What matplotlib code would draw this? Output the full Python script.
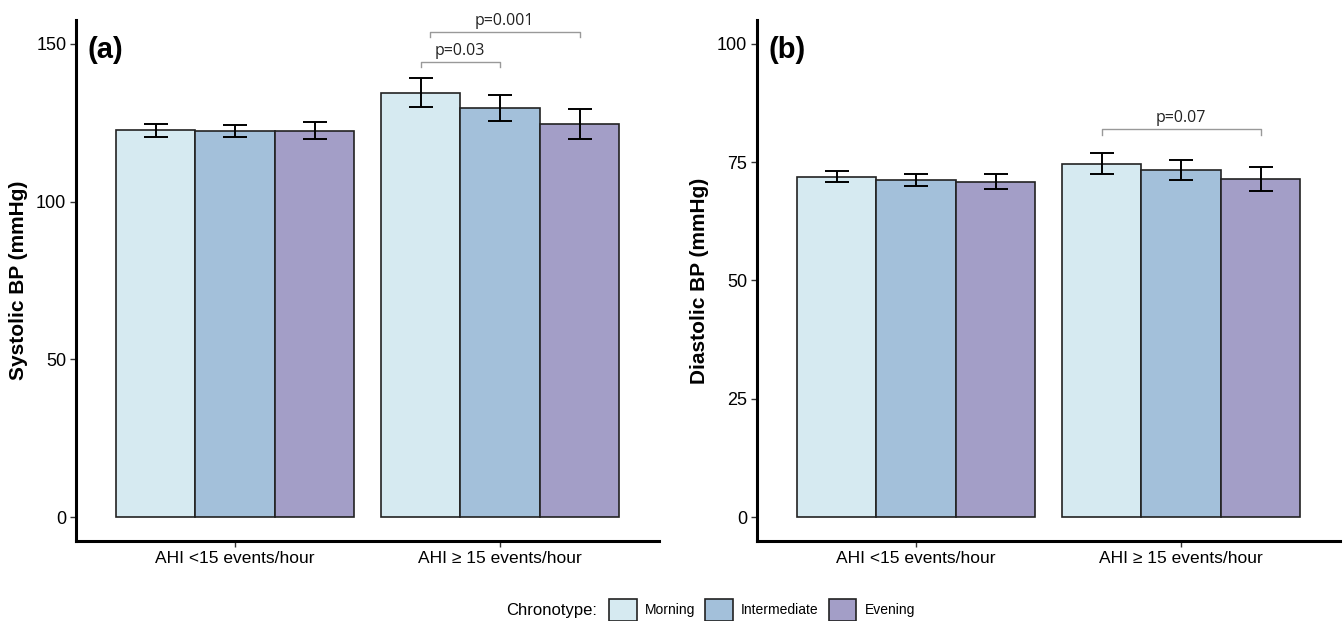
import numpy as np
import matplotlib.pyplot as plt
from matplotlib.patches import Patch
from matplotlib import font_manager

# --- dados ---
groups = ["AHI <15 events/hour", "AHI \u2265 15 events/hour"]
chronotypes = ["Morning", "Intermediate", "Evening"]
colors = ["#d6eaf1", "#a3c0da", "#a39ec7"]

sbp_mean = [[122.6, 122.2, 122.4], [134.4, 129.7, 124.5]]
sbp_err = [[2.0, 1.9, 2.7], [4.6, 4.2, 4.8]]
dbp_mean = [[71.9, 71.2, 70.9], [74.7, 73.4, 71.4]]
dbp_err = [[1.2, 1.2, 1.6], [2.3, 2.1, 2.6]]

# brackets: (group, from_bar, to_bar, y, label)
sbp_brackets = [(1, 0, 1, 144.2, "p=0.03"), (1, 0.12, 2, 153.7, "p=0.001")]
dbp_brackets = [(1, 0, 2, 82.0, "p=0.07")]

names = {f.name for f in font_manager.fontManager.ttflist}
tick_font = "Liberation Sans Narrow" if "Liberation Sans Narrow" in names else "Liberation Sans"
plt.rcParams['font.family'] = ['Liberation Sans', 'DejaVu Sans']

W, H = 1343, 621
fig = plt.figure(figsize=(W / 100, H / 100), dpi=100)

bw = 0.3
x = np.arange(1, len(groups) + 1)


def draw_panel(left_px, right_px, means, errs, brackets, ylim, yticks, ylabel, tag, drop):
    ax = fig.add_axes([left_px / W, (H - 541) / H, (right_px - left_px) / W, (541 - 20) / H])
    for j, name in enumerate(chronotypes):
        vals = [means[g][j] for g in range(len(groups))]
        ev = [errs[g][j] for g in range(len(groups))]
        pos = x + (j - 1) * bw
        ax.bar(pos, vals, width=bw, color=colors[j], edgecolor="#222222", linewidth=1.2, zorder=2)
        ax.errorbar(pos, vals, yerr=ev, fmt="none", ecolor="black", elinewidth=1.4,
                    capsize=8.5, capthick=1.4, zorder=3)
    for g, a, b, y, lab in brackets:
        x0 = x[g] + (a - 1) * bw
        x1 = x[g] + (b - 1) * bw
        ax.plot([x0, x0, x1, x1], [y - drop, y, y, y - drop], color="#999999", lw=1.0, zorder=4)
        ax.text((x0 + x1) / 2, y + drop * 0.6, lab, ha="center", va="bottom", fontsize=11.5,
                family=["Open Sans", "DejaVu Sans"], color="#222222")
    ax.set_xlim(0.4, 2.6)
    ax.set_ylim(*ylim)
    ax.set_yticks(yticks)
    ax.set_yticklabels([str(t) for t in yticks], fontsize=13, family=[tick_font, 'DejaVu Sans'])
    ax.set_xticks(x)
    ax.set_xticklabels(groups, fontsize=12.5)
    ax.tick_params(axis="both", length=4, width=1, color="#333333", pad=3)
    for s in ["top", "right"]:
        ax.spines[s].set_visible(False)
    for s in ["left", "bottom"]:
        ax.spines[s].set_linewidth(2.2)
    ax.set_ylabel(ylabel, fontsize=15, fontweight="bold", labelpad=6)
    ax.text(0.02, 0.97, tag, transform=ax.transAxes, fontsize=21, fontweight="bold",
            ha="left", va="top")
    return ax


ax1 = draw_panel(76, 659, sbp_mean, sbp_err, sbp_brackets, (-7.5, 157.5), [0, 50, 100, 150],
                 "Systolic BP (mmHg)", "(a)", 1.7)
ax2 = draw_panel(757, 1340, dbp_mean, dbp_err, dbp_brackets, (-5, 105), [0, 25, 50, 75, 100],
                 "Diastolic BP (mmHg)", "(b)", 1.2)

handles = [Patch(facecolor=c, edgecolor="#222222", linewidth=1.2) for c in colors]
fig.text(552 / W, 1 - 610 / H, "Chronotype:", ha="center", va="center", fontsize=12)
fig.legend(handles, chronotypes, loc="center", bbox_to_anchor=(762 / W, 1 - 610 / H), ncol=3,
           frameon=False, fontsize=10, handlelength=2.0, handleheight=2.1, handletextpad=0.6,
           columnspacing=0.7, borderpad=0)

fig.savefig("out.png", dpi=100)
